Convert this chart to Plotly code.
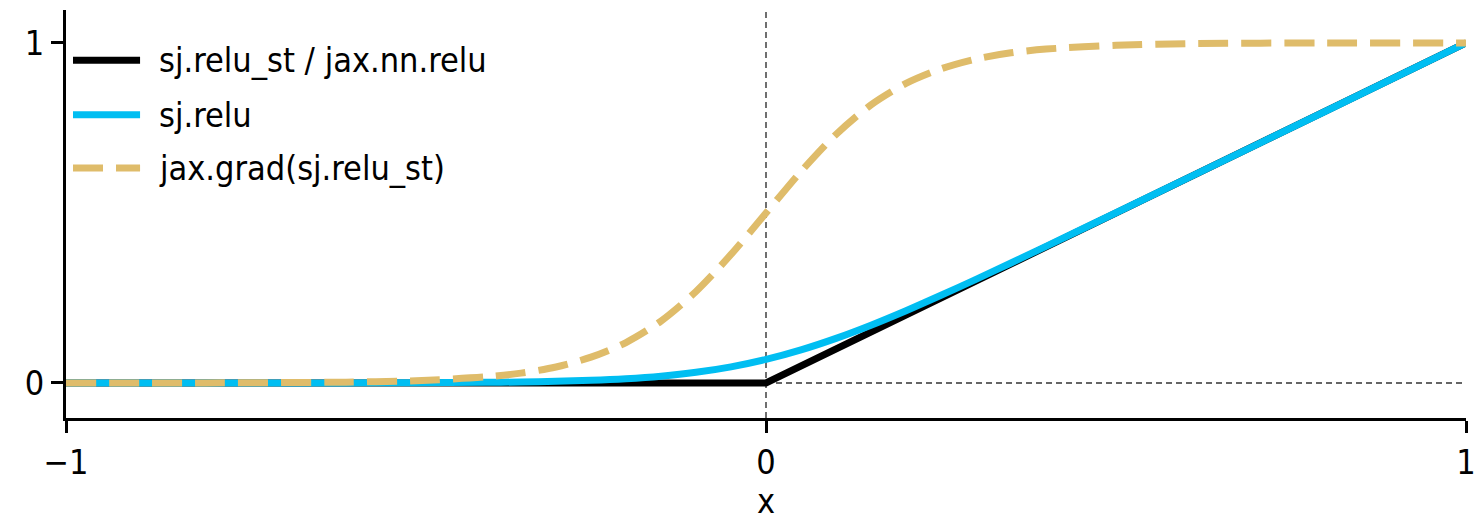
import plotly.graph_objects as go

# sample points along x
x_smooth = [-1.0, -0.8, -0.6, -0.5, -0.4, -0.35, -0.3, -0.25, -0.2, -0.15, -0.1, -0.05,
            0.0, 0.05, 0.1, 0.15, 0.2, 0.25, 0.3, 0.35, 0.4, 0.5, 0.6, 0.8, 1.0]
relu_soft = [0.0, 0.0, 0.0002, 0.0007, 0.0018, 0.0030, 0.0049, 0.0079, 0.0127, 0.0201, 0.0313, 0.0474,
             0.0693, 0.0974, 0.1313, 0.1701, 0.2127, 0.2579, 0.3049, 0.3530, 0.4018, 0.5007, 0.6002, 0.8, 1.0]
grad_relu_st = [0.0, 0.0003, 0.0025, 0.0067, 0.018, 0.029, 0.047, 0.076, 0.119, 0.182, 0.269, 0.378,
                0.500, 0.622, 0.731, 0.818, 0.881, 0.924, 0.953, 0.971, 0.982, 0.993, 0.998, 1.0, 1.0]
x_relu = [-1.0, 0.0, 1.0]
relu_hard = [0.0, 0.0, 1.0]

names = ["sj.relu_st / jax.nn.relu", "sj.relu", "jax.grad(sj.relu_st)"]
x_title = "x"
BLACK = "#000000"
BLUE = "#00BEF2"
GOLD = "#DFBC6A"
FONT = "DejaVu Sans Condensed, DejaVu Sans"
FS = 34
LW = 7
DASH = "30px,13px"

fig = go.Figure()
fig.add_trace(go.Scatter(x=x_relu, y=relu_hard, mode="lines", name=names[0],
                         line=dict(color=BLACK, width=LW), showlegend=False))
fig.add_trace(go.Scatter(x=x_smooth, y=relu_soft, mode="lines", name=names[1],
                         line=dict(color=BLUE, width=LW, shape="spline", smoothing=0.8), showlegend=False))
fig.add_trace(go.Scatter(x=x_smooth, y=grad_relu_st, mode="lines", name=names[2],
                         line=dict(color=GOLD, width=LW, dash=DASH, shape="spline", smoothing=0.8),
                         showlegend=False))

shapes = [
    dict(type="line", xref="x", yref="paper", x0=0, x1=0, y0=0, y1=1,
         line=dict(color="#333333", width=1.4, dash="6px,4px"), layer="below"),
    dict(type="line", xref="paper", yref="y", x0=0, x1=1, y0=0, y1=0,
         line=dict(color="#333333", width=1.4, dash="6px,4px"), layer="below"),
]

# manual legend (line samples + labels)
leg_rows = [0.877, 0.743, 0.613]
leg_styles = [dict(color=BLACK, width=LW), dict(color=BLUE, width=LW),
              dict(color=GOLD, width=LW, dash=DASH)]
annotations = []
for yy, st, nm in zip(leg_rows, leg_styles, names):
    shapes.append(dict(type="line", xref="paper", yref="paper", x0=0.005, x1=0.0529,
                       y0=yy, y1=yy, line=st))
    annotations.append(dict(xref="paper", yref="paper", x=0.065, y=yy, text=nm,
                            showarrow=False, xanchor="left", yanchor="middle",
                            font=dict(family=FONT, size=FS, color="#000000")))

# x-axis title (kept fully inside the page)
annotations.append(dict(xref="paper", yref="paper", x=0.5, y=-0.2574, text=x_title,
                        showarrow=False, xanchor="center", yanchor="bottom",
                        font=dict(family=FONT, size=FS, color="#000000")))

fig.update_layout(
    width=1476, height=523,
    margin=dict(l=66, r=10, t=10, b=105, autoexpand=False),
    plot_bgcolor="white", paper_bgcolor="white",
    font=dict(family=FONT, size=FS, color="#000000"),
    shapes=shapes, annotations=annotations,
    showlegend=False,
)
fig.update_xaxes(range=[-1, 1], tickvals=[-1, 0, 1], ticktext=["\u22121", "0", "1"],
                 automargin=False,
                 showgrid=False, zeroline=False, showline=True, linecolor="black", linewidth=2.8,
                 ticks="outside", ticklen=12, tickwidth=2.8, tickcolor="black")
fig.update_yaxes(range=[-0.103, 1.097], tickvals=[0, 1], ticktext=["0", "1"],
                 automargin=False,
                 showgrid=False, zeroline=False, showline=True, linecolor="black", linewidth=2.8,
                 ticks="outside", ticklen=12, tickwidth=2.8, tickcolor="black")

fig.write_html("out.html", config={"displayModeBar": False},
               post_script="document.body.style.margin='0';document.body.style.overflow='hidden';")
